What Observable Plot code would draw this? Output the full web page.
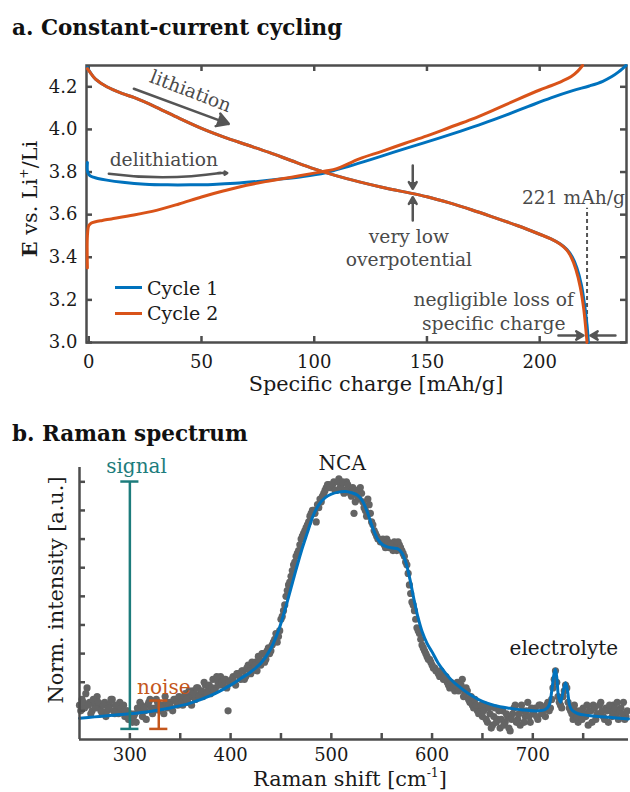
<!DOCTYPE html>
<html><head><meta charset="utf-8">
<script src="https://cdn.jsdelivr.net/npm/d3@7"></script>
<script src="https://cdn.jsdelivr.net/npm/@observablehq/plot@0.6"></script>
<style>
html,body{margin:0;padding:0;background:#fff;}
#wrap{position:relative;width:630px;height:792px;font-family:"DejaVu Serif",serif;color:#111;overflow:hidden;background:#fff}
.abs{position:absolute;white-space:nowrap;line-height:1.2}
.c{transform:translate(-50%,-50%)}
.rot{transform:translate(-50%,-50%) rotate(-90deg)}
</style></head><body><div id="wrap"></div>
<script>
// ---------- Panel a: constant-current cycling ----------
const c1ChargeX = [-0.6,-0.5,0.5,2,4,8,15,25,35,45,55,65,75,85,95,105,115,125,135,145,155,165,175,185,195,205,215,222,228,232,235,237,238.3];
const c1ChargeE = [3.845,3.80,3.783,3.776,3.770,3.762,3.752,3.743,3.740,3.740,3.742,3.747,3.756,3.767,3.779,3.797,3.826,3.858,3.892,3.925,3.958,3.992,4.028,4.067,4.108,4.148,4.183,4.204,4.226,4.248,4.27,4.288,4.30];
const c1DischargeX = [-0.6,1,3,8,15,20,30,40,50,60,70,80,90,100,110,120,130,140,150,160,170,180,190,200,205,209,212,214.5,216.5,218.5,220,221,221.6];
const c1DischargeE = [4.29,4.262,4.236,4.20,4.168,4.150,4.104,4.053,4.005,3.964,3.928,3.892,3.853,3.815,3.782,3.754,3.729,3.707,3.684,3.655,3.622,3.586,3.549,3.508,3.486,3.463,3.437,3.40,3.35,3.27,3.17,3.08,3.0];
const c2ChargeX = [-0.6,-0.6,0,1,3,6,10,20,30,40,50,60,70,80,90,100,105,110,120,130,140,150,160,170,180,190,200,205,210,214,217,219];
const c2ChargeE = [3.35,3.50,3.548,3.560,3.567,3.573,3.580,3.598,3.620,3.650,3.683,3.712,3.738,3.758,3.776,3.795,3.805,3.816,3.862,3.897,3.934,3.970,4.009,4.048,4.093,4.14,4.185,4.205,4.227,4.248,4.275,4.30];
const c2DischargeX = [-0.6,1,3,8,15,20,30,40,50,60,70,80,90,100,110,120,130,140,150,160,170,180,190,200,205,209,212,214,216,218,219.5,220.4,221];
const c2DischargeE = [4.285,4.262,4.236,4.20,4.168,4.150,4.104,4.053,4.005,3.964,3.928,3.892,3.853,3.815,3.782,3.754,3.729,3.707,3.684,3.655,3.622,3.586,3.549,3.508,3.486,3.462,3.434,3.40,3.345,3.26,3.16,3.07,3.0];
const xTicksA = [0,50,100,150,200];
const yTicksA = [3.0,3.2,3.4,3.6,3.8,4.0,4.2];
const capacityMark = 221;
const seriesNames = ["Cycle 1","Cycle 2"];

// annotation arrows (straight): lithiation, overpotential down/up, capacity loss left/right
const arrowX1 = [20.0,143.7,143.7,208.3,233.6];
const arrowY1 = [4.191,3.831,3.573,3.033,3.033];
const arrowX2 = [62.1,143.7,143.7,219.4,222.5];
const arrowY2 = [4.026,3.721,3.682,3.033,3.033];
// delithiation arrow (slightly bent)
const delithX = [8.9,61.4];
const delithY = [3.792,3.795];

const notesA = [
  {x:45.4, y:4.185, text:"lithiation", rotate:21},
  {x:33.3, y:3.862, text:"delithiation", rotate:0},
  {x:142, y:3.447, text:"very low\noverpotential", rotate:0},
  {x:215.0, y:3.685, text:"221 mAh/g", rotate:0},
  {x:179.6, y:3.150, text:"negligible loss of\nspecific charge", rotate:0}
];

// ---------- Panel b: Raman spectrum ----------
// two interleaved read-outs of the measured points (every 2.5 cm-1, offset by 1.25 cm-1)
const ramanStart = 250, ramanStep = 2.5, ramanOffset = 1.25;
const ramanIntensity = [
  0.12,0.14,0.11,0.18,0.13,0.10,0.12,0.15,0.11,0.09,0.13,0.10,0.12,0.14,0.09,0.11,0.13,0.10,0.08,0.10,
  0.07,0.06,0.09,0.11,0.13,0.08,0.10,0.12,0.14,0.09,0.11,0.13,0.10,0.12,0.15,0.11,0.13,0.10,0.14,0.12,
  0.14,0.12,0.16,0.13,0.15,0.17,0.14,0.18,0.16,0.15,0.19,0.17,0.16,0.21,0.18,0.20,0.22,0.19,0.21,0.10,
  0.20,0.22,0.19,0.23,0.21,0.24,0.22,0.26,0.23,0.25,0.27,0.29,0.26,0.30,0.28,0.32,0.31,0.34,0.37,0.36,
  0.42,0.45,0.50,0.54,0.57,0.61,0.64,0.66,0.70,0.72,0.74,0.76,0.79,0.80,0.76,0.81,0.83,0.86,0.88,0.89,
  0.88,0.90,0.87,0.91,0.89,0.86,0.90,0.88,0.85,0.79,0.87,0.84,0.86,0.81,0.78,0.82,0.76,0.73,0.71,0.70,
  0.69,0.68,0.70,0.67,0.68,0.69,0.66,0.68,0.66,0.64,0.61,0.54,0.48,0.45,0.39,0.37,0.33,0.31,0.29,0.28,
  0.26,0.25,0.24,0.22,0.23,0.21,0.20,0.18,0.19,0.17,0.20,0.18,0.21,0.16,0.17,0.13,0.12,0.14,0.10,0.11,
  0.08,0.12,0.06,0.09,0.05,0.11,0.07,0.04,0.10,0.06,0.08,0.03,0.09,0.12,0.07,0.05,0.10,0.08,0.13,0.06,
  0.09,0.11,0.07,0.12,0.10,0.08,0.13,0.11,0.18,0.24,0.15,0.12,0.15,0.19,0.13,0.10,0.07,0.10,0.06,0.09,
  0.11,0.08,0.05,0.10,0.12,0.07,0.09,0.13,0.08,0.11,0.06,0.10,0.12,0.09,0.07,0.11,0.13,0.08
];
const ramanIntensity2 = [
  0.10,0.13,0.16,0.12,0.09,0.14,0.11,0.13,0.10,0.12,0.08,0.11,0.14,0.10,0.12,0.09,0.11,0.12,0.10,0.07,
  0.09,0.08,0.06,0.10,0.12,0.11,0.07,0.13,0.11,0.10,0.14,0.12,0.11,0.09,0.13,0.12,0.11,0.14,0.13,0.15,
  0.13,0.15,0.14,0.17,0.12,0.16,0.18,0.15,0.17,0.20,0.16,0.19,0.18,0.17,0.22,0.19,0.20,0.21,0.18,0.20,
  0.21,0.20,0.23,0.22,0.24,0.21,0.25,0.24,0.27,0.26,0.24,0.28,0.30,0.27,0.31,0.30,0.33,0.35,0.34,0.38,
  0.43,0.47,0.52,0.55,0.59,0.62,0.65,0.68,0.71,0.73,0.75,0.78,0.80,0.79,0.82,0.84,0.85,0.87,0.89,0.88,
  0.89,0.87,0.90,0.88,0.90,0.87,0.89,0.86,0.88,0.83,0.85,0.88,0.83,0.80,0.84,0.79,0.75,0.72,0.70,0.69,
  0.70,0.67,0.69,0.68,0.66,0.67,0.69,0.67,0.65,0.62,0.58,0.51,0.47,0.42,0.38,0.35,0.32,0.30,0.28,0.27,
  0.25,0.24,0.23,0.24,0.21,0.22,0.19,0.20,0.18,0.19,0.17,0.19,0.15,0.18,0.14,0.15,0.11,0.12,0.09,0.12,
  0.10,0.07,0.11,0.04,0.08,0.06,0.10,0.07,0.05,0.09,0.04,0.07,0.11,0.06,0.09,0.12,0.06,0.10,0.08,0.11,
  0.10,0.08,0.12,0.09,0.11,0.12,0.10,0.14,0.21,0.20,0.13,0.11,0.17,0.18,0.11,0.09,0.12,0.08,0.10,0.07,
  0.09,0.12,0.10,0.06,0.11,0.09,0.12,0.10,0.07,0.10,0.12,0.08,0.11,0.13,0.10,0.09,0.07,0.10
];
const fitX = [250,265,280,300,320,340,360,380,400,410,420,430,440,448,456,463,470,476,482,488,494,500,507,514,520,526,531,536,541,546,551,556,561,566,570,574,578,582,586,590,595,600,606,612,620,630,640,650,662,675,690,705,712,716,719,721,722.5,724,725.5,727.5,730,732.5,734.5,736.5,739,745,755,765,780,795];
const fitY = [0.074,0.079,0.084,0.090,0.098,0.110,0.127,0.153,0.190,0.213,0.236,0.266,0.318,0.385,0.478,0.568,0.655,0.720,0.782,0.822,0.845,0.857,0.864,0.866,0.862,0.853,0.832,0.792,0.740,0.700,0.680,0.672,0.669,0.666,0.652,0.618,0.560,0.490,0.427,0.378,0.336,0.306,0.267,0.238,0.205,0.176,0.152,0.133,0.119,0.110,0.103,0.100,0.104,0.118,0.175,0.228,0.245,0.21,0.15,0.13,0.165,0.198,0.17,0.12,0.102,0.090,0.084,0.080,0.076,0.072];
const xTicksB = [300,350,400,450,500,550,600,650,700,750];
const xLabelsB = [300,400,500,600,700];
const yTicksB = [0.1,0.2,0.3,0.4,0.5,0.6,0.7,0.8,0.9];
const barNames = ["signal","noise"];
const barX = [300,328.7];
const barLo = [0.037,0.037];
const barHi = [0.901,0.136];
const notesB = [
  {x:306.6, y:0.953, text:"signal", color:"#1d7c7c"},
  {x:333.7, y:0.183, text:"noise", color:"#c4561c"},
  {x:510.8, y:0.963, text:"NCA", color:"#1a1a1a"},
  {x:730.8, y:0.317, text:"electrolyte", color:"#1a1a1a"}
];

// ---------- styling ----------
const BLUE = "#0072BD", ORANGE = "#D95319", AX = "#4d4d4d", ANN = "#4a4a4a";
const FONT = "DejaVu Serif";

const toPts = (xs, ys) => xs.map((x, i) => ({x, y: ys[i]}));
const wrap = document.getElementById("wrap");

// Panel a plot
const A = {w:630, h:350, mt:15, mb:58, ml:86, mr:4};
const FHa = A.h - A.mt - A.mb, FWa = A.w - A.ml - A.mr;
const straightArrows = arrowX1.map((x1, i) => ({x1, y1: arrowY1[i], x2: arrowX2[i], y2: arrowY2[i]}));

const plotA = Plot.plot({
  width: A.w, height: A.h, marginTop: A.mt, marginBottom: A.mb, marginLeft: A.ml, marginRight: A.mr,
  style: {fontFamily: FONT, fontSize: "18px", color: "#1a1a1a", background: "transparent", overflow: "visible", position: "absolute", left: "0px", top: "50px"},
  x: {domain: [-1, 238.5]},
  y: {domain: [3.0, 4.3]},
  marks: [
    Plot.axisX(xTicksA, {tickSize: 0, tickPadding: 13, label: null, tickFormat: d => String(d)}),
    Plot.axisY(yTicksA, {tickSize: 0, tickPadding: 9, label: null, tickFormat: d3.format(".1f")}),
    Plot.frame({stroke: AX, strokeWidth: 2.5}),
    Plot.tickX(xTicksA, {x: d => d, insetTop: FHa - 6, stroke: AX, strokeWidth: 2.5}),
    Plot.tickX(xTicksA, {x: d => d, insetBottom: FHa - 6, stroke: AX, strokeWidth: 2.5}),
    Plot.tickY(yTicksA, {y: d => d, insetRight: FWa - 6, stroke: AX, strokeWidth: 2.5}),
    Plot.tickY(yTicksA, {y: d => d, insetLeft: FWa - 6, stroke: AX, strokeWidth: 2.5}),
    Plot.ruleX([capacityMark], {y1: 3.0, y2: 3.63, stroke: "#555", strokeWidth: 2, strokeDasharray: "4,3"}),
    Plot.line(toPts(c1ChargeX, c1ChargeE), {x: "x", y: "y", stroke: BLUE, strokeWidth: 3, curve: "catmull-rom"}),
    Plot.line(toPts(c1DischargeX, c1DischargeE), {x: "x", y: "y", stroke: BLUE, strokeWidth: 3, curve: "catmull-rom"}),
    Plot.line(toPts(c2ChargeX, c2ChargeE), {x: "x", y: "y", stroke: ORANGE, strokeWidth: 3, curve: "catmull-rom"}),
    Plot.line(toPts(c2DischargeX, c2DischargeE), {x: "x", y: "y", stroke: ORANGE, strokeWidth: 3, curve: "catmull-rom"}),
    Plot.arrow(straightArrows, {x1: "x1", y1: "y1", x2: "x2", y2: "y2", stroke: "#555", fill: "#555", strokeWidth: 2.5, headLength: 8, headAngle: 60}),
    Plot.arrow([{x1: delithX[0], y1: delithY[0], x2: delithX[1] - 3, y2: delithY[1]}], {x1: "x1", y1: "y1", x2: "x2", y2: "y2", stroke: "#555", strokeWidth: 2.5, bend: -8, headLength: 0}),
    Plot.arrow([{x1: delithX[1] - 4, y1: delithY[1], x2: delithX[1], y2: delithY[1]}], {x1: "x1", y1: "y1", x2: "x2", y2: "y2", stroke: "#555", fill: "#555", strokeWidth: 2.5, headLength: 8, headAngle: 60}),
    Plot.text(notesA, {x: "x", y: "y", text: "text", rotate: "rotate", fill: ANN, fontSize: 18.7, lineHeight: 1.25})
  ]
});
wrap.appendChild(plotA);

// Panel b plot
const B = {w:630, h:342, mt:17, mb:53, ml:79, mr:2};
const FHb = B.h - B.mt - B.mb, FWb = B.w - B.ml - B.mr;
const raman = ramanIntensity.map((v, i) => ({x: ramanStart + i * ramanStep, y: v}))
  .concat(ramanIntensity2.map((v, i) => ({x: ramanStart + ramanOffset + i * ramanStep, y: v})));
const bars = barX.map((x, i) => ({x, lo: barLo[i], hi: barHi[i], name: barNames[i], color: notesB[i].color}));
const caps = bars.flatMap(b => [{x: b.x, y: b.lo, color: b.color}, {x: b.x, y: b.hi, color: b.color}]);

const plotB = Plot.plot({
  width: B.w, height: B.h, marginTop: B.mt, marginBottom: B.mb, marginLeft: B.ml, marginRight: B.mr,
  style: {fontFamily: FONT, fontSize: "18px", color: "#1a1a1a", background: "transparent", overflow: "visible", position: "absolute", left: "0px", top: "450px"},
  x: {domain: [250, 795]},
  y: {domain: [0, 0.95], axis: null},
  marks: [
    Plot.axisX(xLabelsB, {tickSize: 0, tickPadding: 9, label: null, tickFormat: d => String(d)}),
    Plot.dot(raman, {x: "x", y: "y", r: 3.6, fill: "#646464"}),
    Plot.line(toPts(fitX, fitY), {x: "x", y: "y", stroke: BLUE, strokeWidth: 3, curve: "catmull-rom"}),
    Plot.ruleX(bars, {x: "x", y1: "lo", y2: "hi", stroke: "color", strokeWidth: 2.5}),
    Plot.ruleY(caps, {y: "y", x1: d => d.x - 9, x2: d => d.x + 9, stroke: "color", strokeWidth: 2.5}),
    Plot.ruleX([250], {stroke: AX, strokeWidth: 2.5}),
    Plot.ruleY([0], {stroke: AX, strokeWidth: 2.5}),
    Plot.tickX(xTicksB, {x: d => d, insetTop: FHb - 6, stroke: AX, strokeWidth: 2.5}),
    Plot.tickY(yTicksB, {y: d => d, insetRight: FWb - 6, stroke: AX, strokeWidth: 2.5}),
    Plot.text(notesB, {x: "x", y: "y", text: "text", fill: "color", fontSize: 20})
  ]
});
wrap.appendChild(plotB);

// ---------- HTML text: titles, axis labels, legend ----------
function addDiv(html, cls, x, y, style) {
  const d = document.createElement("div");
  d.className = "abs " + cls;
  d.innerHTML = html;
  d.style.left = x + "px";
  d.style.top = y + "px";
  Object.assign(d.style, style || {});
  wrap.appendChild(d);
  return d;
}
addDiv("a. Constant-current cycling", "", 12, 28, {fontWeight: "bold", fontSize: "21.5px", transform: "translateY(-50%)", color: "#111"});
addDiv("b. Raman spectrum", "", 12, 434, {fontWeight: "bold", fontSize: "21.5px", transform: "translateY(-50%)", color: "#111"});
addDiv("Specific charge [mAh/g]", "c", 376, 384, {fontSize: "20.8px", color: "#1a1a1a"});
addDiv("Raman shift [cm<sup style='font-size:0.6em;vertical-align:0.7em'>-1</sup>]", "c", 350, 779, {fontSize: "20.8px", color: "#1a1a1a"});
addDiv("<b>E</b> vs. Li<sup style='font-size:0.6em;vertical-align:0.7em'>+</sup>/Li", "rot", 30, 199, {fontSize: "20.8px", color: "#1a1a1a"});
addDiv("Norm. intensity [a.u.]", "rot", 56, 590, {fontSize: "20.8px", color: "#1a1a1a"});

// legend (inside panel a)
const legendColors = [BLUE, ORANGE];
seriesNames.forEach((name, i) => {
  const y = 287.7 + i * 25.6;
  addDiv("", "", 115, y - 1.5, {width: "27px", height: "3px", background: legendColors[i]});
  addDiv(name, "", 147, y, {fontSize: "19px", transform: "translateY(-50%)", color: "#1a1a1a"});
});
</script></body></html>
